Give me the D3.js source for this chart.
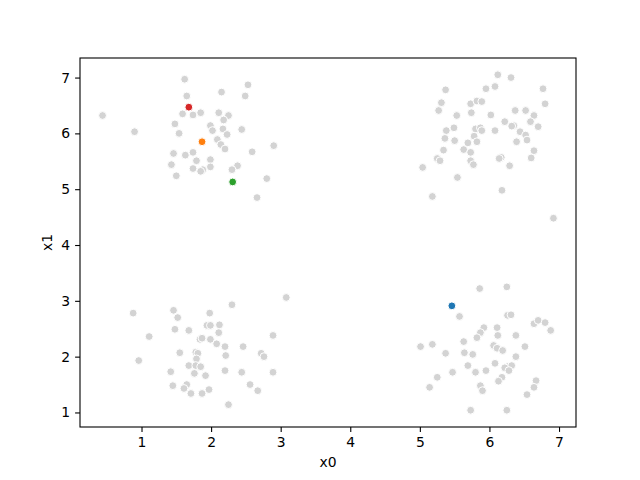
<!DOCTYPE html>
<html>
<head>
<meta charset="utf-8">
<script src="https://cdn.jsdelivr.net/npm/d3@7"></script>
<style>
  body { margin: 0; background: #fff; }
  text { font-family: "DejaVu Sans", sans-serif; }
</style>
</head>
<body>
<svg width="640" height="480"></svg>
<script>
// gray background points, [x0, x1]
var grayX0 = [
  // top left
  1.62, 2.53, 2.15, 2.49, 1.65, 0.44, 1.59, 1.74, 1.85, 2.11, 2.25, 2.18, 1.48, 1.99, 0.90,
  1.54, 2.02, 2.17, 2.23, 2.44, 2.09, 2.14, 2.20, 1.46, 1.63, 1.74, 2.59, 2.90, 1.79, 1.99,
  1.43, 1.74, 1.88, 1.85, 1.99, 2.38, 2.30, 1.50, 2.80, 2.66,
  // top right
  6.12, 6.31, 5.37, 5.95, 6.08, 6.77, 5.31, 5.73, 5.82, 5.89, 6.80, 5.27, 5.74, 5.53, 6.02,
  6.37, 6.52, 6.64, 6.59, 6.70, 6.22, 6.35, 6.32, 6.44, 6.52, 6.54, 6.39, 6.08, 5.38, 5.49,
  5.80, 5.87, 5.89, 5.78, 5.82, 5.36, 5.50, 5.69, 5.34, 5.63, 5.73, 6.64, 6.60, 5.25, 5.29,
  6.17, 6.14, 5.73, 5.77, 6.29, 5.04, 5.54, 6.18, 5.18, 6.92,
  // bottom left
  3.08, 2.30, 0.88, 1.46, 1.52, 1.98, 1.11, 1.48, 1.68, 1.94, 1.99, 2.12, 2.11, 1.84, 1.87,
  1.99, 2.08, 2.20, 2.46, 2.89, 0.96, 1.55, 1.78, 1.81, 1.79, 2.21, 2.72, 2.76, 1.68, 1.78,
  1.85, 1.42, 1.76, 1.92, 2.20, 2.44, 2.89, 1.45, 1.65, 1.61, 1.71, 1.87, 1.97, 2.56, 2.67,
  2.25,
  // bottom right
  5.86, 6.25, 5.57, 6.26, 6.31, 6.64, 6.70, 6.80, 6.88, 5.92, 6.11, 5.87, 5.82, 6.12, 6.38,
  5.63, 5.01, 5.18, 5.37, 5.64, 5.76, 6.06, 6.11, 6.19, 6.51, 6.38, 5.69, 5.80, 5.95, 6.08,
  6.26, 6.32, 6.22, 6.28, 5.47, 5.25, 5.14, 6.18, 6.13, 5.87, 5.90, 6.67, 6.64, 6.54, 5.73,
  6.25
];
var grayX1 = [
  // top left
  6.97, 6.87, 6.74, 6.67, 6.67, 6.32, 6.35, 6.33, 6.37, 6.37, 6.32, 6.24, 6.17, 6.14, 6.03,
  6.00, 6.05, 6.08, 5.98, 6.07, 5.89, 5.80, 5.72, 5.64, 5.61, 5.66, 5.67, 5.78, 5.51, 5.53,
  5.44, 5.37, 5.35, 5.32, 5.40, 5.42, 5.35, 5.24, 5.19, 4.85,
  // top right
  7.05, 7.00, 6.78, 6.80, 6.84, 6.80, 6.55, 6.53, 6.58, 6.57, 6.53, 6.41, 6.37, 6.32, 6.33,
  6.41, 6.41, 6.32, 6.21, 6.12, 6.21, 6.14, 6.13, 6.03, 5.97, 5.88, 5.85, 6.05, 6.05, 6.10,
  6.08, 6.10, 6.05, 5.95, 5.85, 5.91, 5.87, 5.83, 5.70, 5.71, 5.66, 5.69, 5.56, 5.55, 5.51,
  5.57, 5.55, 5.51, 5.44, 5.42, 5.39, 5.21, 4.98, 4.87, 4.48,
  // bottom left
  3.06, 2.93, 2.78, 2.83, 2.70, 2.78, 2.36, 2.49, 2.47, 2.56, 2.56, 2.57, 2.43, 2.31, 2.33,
  2.31, 2.23, 2.18, 2.18, 2.38, 1.93, 2.07, 2.08, 2.06, 1.96, 2.02, 2.06, 2.00, 1.84, 1.84,
  1.82, 1.73, 1.70, 1.66, 1.75, 1.72, 1.72, 1.48, 1.50, 1.43, 1.34, 1.34, 1.41, 1.50, 1.39,
  1.14,
  // bottom right
  3.22, 3.25, 2.72, 2.74, 2.75, 2.59, 2.65, 2.61, 2.47, 2.52, 2.52, 2.43, 2.34, 2.38, 2.38,
  2.27, 2.18, 2.22, 2.06, 2.07, 2.04, 2.20, 2.15, 2.11, 2.18, 2.00, 1.84, 1.72, 1.75, 1.88,
  1.82, 1.84, 1.80, 1.75, 1.72, 1.63, 1.45, 1.63, 1.56, 1.48, 1.39, 1.57, 1.45, 1.32, 1.04,
  1.04
];

// highlighted points
var hiX0 = [5.46, 1.87, 2.31, 1.68];
var hiX1 = [2.91, 5.85, 5.13, 6.47];
var hiColors = ["#1f77b4", "#ff7f0e", "#2ca02c", "#d62728"];

var xTicks = [1, 2, 3, 4, 5, 6, 7];
var yTicks = [1, 2, 3, 4, 5, 6, 7];

var svg = d3.select("svg"),
    width = +svg.attr("width"),
    height = +svg.attr("height");

var margin = {top: 58, right: 64, bottom: 53, left: 80},
    w = width - margin.left - margin.right,
    h = height - margin.top - margin.bottom;

var allX = grayX0.concat(hiX0), allY = grayX1.concat(hiX1);
var xmin = d3.min(allX), xmax = d3.max(allX);
var ymin = d3.min(allY), ymax = d3.max(allY);
var px = (xmax - xmin) * 0.05, py = (ymax - ymin) * 0.05;

var x = d3.scaleLinear().domain([xmin - px, xmax + px]).range([0, w]);
var y = d3.scaleLinear().domain([ymin - py, ymax + py]).range([h, 0]);

var g = svg.append("g").attr("transform", "translate(" + margin.left + "," + margin.top + ")");

var gray = d3.range(grayX0.length).map(function(i) { return [grayX0[i], grayX1[i]]; });

g.selectAll("circle.gray")
    .data(gray)
    .enter().append("circle")
    .attr("class", "gray")
    .attr("cx", function(d) { return x(d[0]); })
    .attr("cy", function(d) { return y(d[1]); })
    .attr("r", 3.9)
    .attr("fill", "#d3d3d3")
    .attr("stroke", "#fff")
    .attr("stroke-width", 1);

g.selectAll("circle.hi")
    .data(hiX0)
    .enter().append("circle")
    .attr("class", "hi")
    .attr("cx", function(d) { return x(d); })
    .attr("cy", function(d, i) { return y(hiX1[i]); })
    .attr("r", 3.9)
    .attr("fill", function(d, i) { return hiColors[i]; })
    .attr("stroke", "#fff")
    .attr("stroke-width", 1);

// axes
var xAxis = g.append("g")
    .attr("transform", "translate(0," + h + ")")
    .call(d3.axisBottom(x).tickValues(xTicks).tickFormat(d3.format("d")).tickSizeOuter(0).tickSize(4.9).tickPadding(4.9));
var yAxis = g.append("g")
    .call(d3.axisLeft(y).tickValues(yTicks).tickFormat(d3.format("d")).tickSizeOuter(0).tickSize(4.9).tickPadding(4.9));

[xAxis, yAxis].forEach(function(a) {
  a.select(".domain").remove();
  a.selectAll("line").attr("stroke", "#000").attr("stroke-width", 1.1);
  a.selectAll("text").attr("font-size", "13.9px").attr("fill", "#000")
    .attr("font-family", "DejaVu Sans, sans-serif");
});

// frame
g.append("rect")
    .attr("x", 0).attr("y", 0).attr("width", w).attr("height", h)
    .attr("fill", "none").attr("stroke", "#000").attr("stroke-width", 1.1);

svg.append("text")
    .attr("x", margin.left + w / 2)
    .attr("y", 467)
    .attr("text-anchor", "middle")
    .attr("font-size", "13.9px")
    .text("x0");

svg.append("text")
    .attr("transform", "translate(52," + (margin.top + h / 2) + ") rotate(-90)")
    .attr("text-anchor", "middle")
    .attr("font-size", "13.9px")
    .text("x1");
</script>
</body>
</html>
